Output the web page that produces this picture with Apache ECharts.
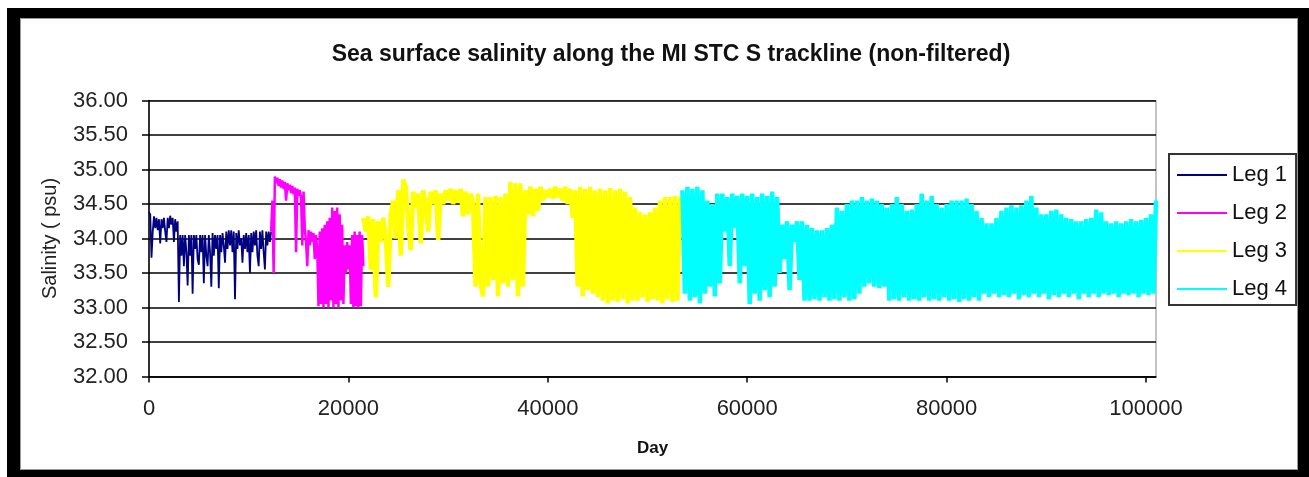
<!DOCTYPE html>
<html><head><meta charset="utf-8">
<script src="https://cdn.jsdelivr.net/npm/echarts@6/dist/echarts.min.js"></script>
<style>
html,body{margin:0;padding:0;background:#fff;}
#frame{position:absolute;left:7px;top:8px;width:1302px;height:469px;box-sizing:border-box;border-style:solid;border-color:#000;border-width:10px 11px 7px 13px;}
#inner{position:absolute;left:0;top:0;right:0;bottom:0;border:1px solid #9a9a9a;}
#chart{position:absolute;left:0;top:0;width:1309px;height:477px;}
</style></head>
<body>
<div id="frame"><div id="inner"></div></div>
<div id="chart"></div>
<script>
// ---- data ----
const titleText = 'Sea surface salinity along the MI STC S trackline (non-filtered)';
const xName = 'Day';
const yName = 'Salinity ( psu)';
const legNames = ['Leg 1', 'Leg 2', 'Leg 3', 'Leg 4'];
const xTicks = [0, 20000, 40000, 60000, 80000, 100000];
const legStarts = [0, 12250, 21500, 53500];   // first day of each leg
const legSteps = [125, 125, 250, 250];        // days between samples

const leg1 = [34.38, 34.35, 33.72, 34.1, 34.32, 34.15, 34.3, 34.12, 34.28, 33.93,
  34.28, 34.15, 34.3, 34.1, 33.95, 34.3, 34.15, 34.33, 34.2, 34.3,
  33.95, 34.28, 34.1, 34.25, 33.08, 34.05, 33.75, 34.05, 33.6, 34.05,
  33.8, 33.32, 34.05, 33.75, 34.05, 33.2, 34.05, 33.85, 34.05, 33.7,
  33.62, 34.05, 33.8, 34.05, 33.35, 34.05, 33.75, 33.6, 34.05, 33.8,
  33.3, 34.08, 33.75, 34.05, 33.85, 34.05, 33.28, 34.05, 33.8, 34.08,
  33.9, 33.65, 34.1, 33.85, 34.12, 33.9, 34.12, 33.8, 34.1, 33.12,
  34.08, 33.85, 34.12, 33.9, 34.0, 33.65, 34.05, 33.85, 34.08, 33.8,
  34.05, 33.5, 34.08, 33.8, 34.1, 33.9, 34.12, 33.75, 33.6, 34.1,
  33.85, 34.12, 33.8, 33.55, 34.1, 33.9, 34.1, 33.95, 34.1];

const leg2 = [34.1, 34.55, 33.5, 34.9, 34.8, 34.88, 34.76, 34.86, 34.74, 34.84,
  34.72, 34.82, 34.55, 34.8, 34.7, 34.78, 34.66, 34.76, 34.64, 34.74,
  33.8, 34.72, 34.62, 34.7, 34.6, 33.9, 34.68, 34.15, 33.95, 33.6,
  34.12, 33.9, 34.1, 33.95, 34.08, 33.7, 34.05, 33.85, 33.02, 34.1,
  33.05, 34.15, 33.0, 34.2, 33.05, 34.25, 33.0, 34.3, 33.1, 34.45,
  33.0, 34.4, 33.05, 34.45, 33.0, 34.35, 33.1, 34.2, 33.05, 33.9,
  33.5, 33.95, 33.55, 33.9, 33.05, 34.05, 33.0, 34.1, 33.02, 34.05,
  33.0, 34.1, 33.02, 34.05, 33.6];

const leg3 = [34.3, 34.1, 34.32, 33.55, 34.28, 33.15, 34.25, 33.95, 34.3, 34.0,
  33.3, 34.35, 34.55, 34.0, 34.7, 33.75, 34.85, 34.75, 34.2, 33.83,
  34.68, 34.45, 34.65, 33.93, 34.7, 34.5, 34.1, 34.68, 34.5, 34.7,
  33.98, 34.65, 34.5, 34.7, 34.55, 34.72, 34.5, 34.7, 34.52, 34.72,
  34.32, 34.68, 34.35, 34.65, 34.5, 33.3, 34.65, 33.35, 33.16, 34.6,
  33.3, 34.6, 33.4, 34.62, 33.16, 34.6, 33.35, 34.65, 33.3, 34.82,
  33.4, 34.8, 33.16, 34.8, 33.3, 34.7, 34.35, 34.75, 34.32, 34.72,
  34.4, 34.75, 34.55, 34.7, 34.6, 34.72, 34.58, 34.75, 34.6, 34.72,
  34.55, 34.75, 34.5, 34.72, 34.3, 34.7, 33.3, 34.75, 33.16, 34.72,
  33.25, 34.75, 33.2, 34.7, 33.15, 34.72, 33.1, 34.7, 33.06, 34.73,
  33.1, 34.7, 33.08, 34.72, 33.12, 34.68, 33.06, 34.6, 33.1, 34.45,
  33.1, 34.38, 33.15, 34.35, 33.08, 34.38, 33.12, 34.45, 33.1, 34.55,
  33.06, 34.6, 33.12, 34.6, 33.08, 34.62, 33.1, 34.6];

const leg4 = [34.7, 33.2, 34.75, 33.1, 34.72, 33.15, 34.75, 33.06, 34.7, 33.2,
  34.55, 33.3, 34.5, 33.16, 34.65, 33.35, 34.65, 34.1, 34.6, 33.6,
  34.65, 34.15, 34.62, 33.35, 34.65, 33.6, 34.62, 33.05, 34.65, 33.2,
  34.6, 33.1, 34.65, 33.25, 34.62, 33.15, 34.68, 33.3, 34.6, 33.5,
  34.2, 33.7, 34.25, 33.25, 34.2, 33.95, 34.25, 33.4, 34.25, 33.1,
  34.2, 33.1, 34.15, 33.12, 34.12, 33.1, 34.12, 33.15, 34.15, 33.1,
  34.2, 33.12, 34.45, 33.1, 34.4, 33.15, 34.5, 33.1, 34.55, 33.12,
  34.55, 33.2, 34.6, 33.3, 34.55, 33.35, 34.58, 33.3, 34.55, 33.28,
  34.5, 33.3, 34.45, 33.1, 34.5, 33.12, 34.6, 33.1, 34.5, 33.15,
  34.4, 33.1, 34.42, 33.12, 34.5, 33.1, 34.65, 33.15, 34.55, 33.1,
  34.62, 33.12, 34.5, 33.1, 34.45, 33.15, 34.5, 33.1, 34.55, 33.12,
  34.55, 33.08, 34.55, 33.12, 34.58, 33.1, 34.5, 33.15, 34.4, 33.1,
  34.3, 33.2, 34.22, 33.15, 34.22, 33.2, 34.3, 33.15, 34.4, 33.18,
  34.45, 33.15, 34.48, 33.2, 34.45, 33.12, 34.48, 33.18, 34.55, 33.15,
  34.62, 33.2, 34.45, 33.15, 34.35, 33.2, 34.35, 33.12, 34.4, 33.18,
  34.42, 33.15, 34.35, 33.2, 34.3, 33.15, 34.28, 33.2, 34.25, 33.12,
  34.25, 33.2, 34.28, 33.15, 34.3, 33.2, 34.42, 33.15, 34.38, 33.2,
  34.25, 33.18, 34.22, 33.2, 34.25, 33.15, 34.22, 33.2, 34.25, 33.18,
  34.28, 33.2, 34.25, 33.15, 34.27, 33.2, 34.3, 33.18, 34.35, 33.2,
  34.55];

const legValues = [leg1, leg2, leg3, leg4];

// ---- chart ----
const FONT = '"Liberation Sans", Arial, Helvetica, sans-serif';
const styles = [
  {color: '#000080', width: 1.8},
  {color: '#ff00ff', width: 2.5},
  {color: '#ffff00', width: 4.5},
  {color: '#00ffff', width: 4.5}
];
function toPoints(start, step, values) {
  return values.map((v, i) => [start + i * step, v]);
}
const chart = echarts.init(document.getElementById('chart'), null, {renderer: 'canvas'});
chart.setOption({
  backgroundColor: 'transparent',
  animation: false,
  title: {
    text: titleText, left: 666, top: 38, textAlign: 'center',
    textStyle: {fontFamily: FONT, fontSize: 23, fontWeight: 'bold', color: '#111'}
  },
  grid: {
    left: 149, right: 153, top: 100.5, bottom: 100.5,
    show: true, borderColor: '#888', borderWidth: 1, backgroundColor: 'transparent'
  },
  legend: {
    orient: 'vertical', left: 1169, top: 154,
    padding: [10, 9, 5, 8],
    borderColor: '#333', borderWidth: 2,
    itemWidth: 50, itemHeight: 2, itemGap: 16, itemTextGap: 5, icon: 'rect',
    textStyle: {fontFamily: FONT, fontSize: 22, color: '#111', lineHeight: 22},
    data: legNames
  },
  xAxis: {
    type: 'value', min: 0, max: 101000, interval: 20000,
    name: xName, nameLocation: 'middle', nameGap: 63,
    nameTextStyle: {fontFamily: FONT, fontSize: 17, fontWeight: 'bold', color: '#111'},
    axisLine: {show: true, lineStyle: {color: '#000', width: 1.5}},
    axisTick: {show: true, length: 6, lineStyle: {color: '#000', width: 1.5}, customValues: xTicks},
    axisLabel: {customValues: xTicks, formatter: v => String(v), margin: 21, fontFamily: FONT, fontSize: 22, color: '#222'},
    splitLine: {show: false}
  },
  yAxis: {
    type: 'value', min: 32, max: 36, interval: 0.5,
    name: yName, nameLocation: 'middle', nameGap: 89, nameRotate: 90,
    nameTextStyle: {fontFamily: FONT, fontSize: 20, color: '#222'},
    axisLine: {show: true, lineStyle: {color: '#000', width: 1.5}},
    axisTick: {show: true, length: 7, lineStyle: {color: '#000', width: 1.5}},
    axisLabel: {formatter: v => v.toFixed(2), margin: 21, fontFamily: FONT, fontSize: 22, color: '#222'},
    splitLine: {show: true, lineStyle: {color: '#000', width: 1.5}}
  },
  series: legNames.map((name, i) => ({
    name: name, type: 'line',
    data: toPoints(legStarts[i], legSteps[i], legValues[i]),
    showSymbol: false, symbol: 'none', silent: true,
    color: styles[i].color,
    itemStyle: {color: styles[i].color},
    lineStyle: {color: styles[i].color, width: styles[i].width, join: 'bevel'},
    z: 2 + i
  }))
});
</script>
</body></html>
